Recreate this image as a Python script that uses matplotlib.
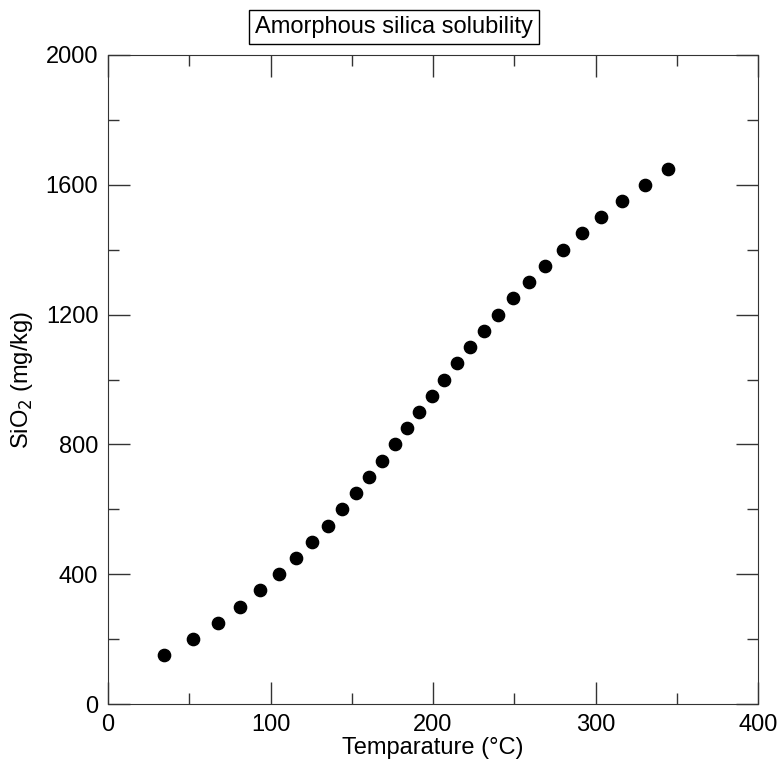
import matplotlib
matplotlib.use("Agg")
from matplotlib import pyplot as plt
from matplotlib.ticker import MultipleLocator

# amorphous silica solubility
temp = [34.5, 52.3, 67.7, 81.2, 93.5, 105.2, 115.7, 125.5, 135.4, 144.0,
        152.6, 160.6, 168.6, 176.6, 184.0, 191.4, 199.4, 206.8, 214.8, 222.8,
        231.4, 240.0, 249.2, 259.0, 268.9, 280.0, 291.7, 303.4, 316.3, 330.5,
        344.6]
sio2 = [150, 200, 250, 300, 350, 400, 450, 500, 550, 600,
        650, 700, 750, 800, 850, 900, 950, 1000, 1050, 1100,
        1150, 1200, 1250, 1300, 1350, 1400, 1450, 1500, 1550, 1600,
        1650]

plt.rcParams['font.family'] = ['Liberation Sans', 'DejaVu Sans']

fig = plt.figure(figsize=(7.8, 7.69), dpi=100)
ax = fig.add_axes([0.1385, 0.0845, 0.8333, 0.844])

ax.scatter(temp, sio2, s=78, color='black', zorder=3)

ax.set_xlim(0, 400)
ax.set_ylim(0, 2000)
ax.xaxis.set_major_locator(MultipleLocator(100))
ax.xaxis.set_minor_locator(MultipleLocator(50))
ax.yaxis.set_major_locator(MultipleLocator(400))
ax.yaxis.set_minor_locator(MultipleLocator(200))
ax.tick_params(which='both', direction='in', top=True, right=True,
               labelsize=17, color='#333333')
ax.tick_params(which='major', length=16, width=1, pad=7)
ax.tick_params(which='minor', length=8, width=1)
for s in ax.spines.values():
    s.set_color('#333333')

ax.set_xlabel('Temparature (°C)', fontsize=17, labelpad=1)
ax.set_ylabel('SiO$_2$ (mg/kg)', fontsize=17, labelpad=8)

fig.text(0.505, 0.965, 'Amorphous silica solubility', ha='center', va='center',
         fontsize=17,
         bbox=dict(boxstyle='square,pad=0.25', facecolor='white',
                   edgecolor='black', linewidth=1))

fig.savefig('out.png', dpi=100)
